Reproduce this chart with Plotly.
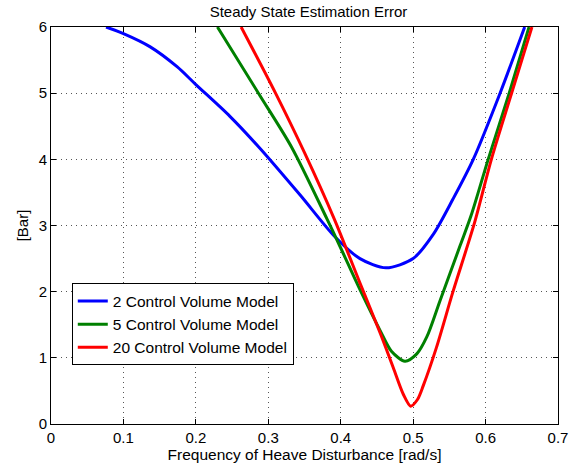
import plotly.graph_objects as go

x_blue = [0.076, 0.1, 0.137, 0.174, 0.2, 0.247, 0.289, 0.344, 0.392, 0.4266, 0.4625, 0.5, 0.528, 0.555, 0.583, 0.62, 0.654]
y_blue = [6.0, 5.9, 5.7, 5.4, 5.13, 4.65, 4.16, 3.46, 2.83, 2.5, 2.36, 2.5, 2.87, 3.4, 4.0, 5.0, 6.0]

x_green = [0.2298, 0.2864, 0.3324, 0.381, 0.4, 0.4266, 0.455, 0.47, 0.4887, 0.505, 0.519, 0.537, 0.565, 0.58, 0.6036, 0.6326, 0.66]
y_green = [6.0, 5.0, 4.18, 3.1, 2.66, 2.03, 1.4, 1.1, 0.95, 1.06, 1.32, 1.86, 2.7, 3.15, 4.0, 5.0, 6.0]

x_red = [0.2625, 0.31, 0.35, 0.391, 0.4266, 0.455, 0.4726, 0.4864, 0.4966, 0.506, 0.514, 0.532, 0.555, 0.585, 0.608, 0.636, 0.664]
y_red = [6.0, 5.0, 4.1, 3.1, 2.13, 1.36, 0.85, 0.45, 0.27, 0.37, 0.58, 1.15, 2.0, 3.05, 4.0, 5.0, 6.0]

names = ["2 Control Volume Model", "5 Control Volume Model", "20 Control Volume Model"]
colors = ["#0000ff", "#008000", "#ff0000"]

x_ticks = [0, 0.1, 0.2, 0.3, 0.4, 0.5, 0.6, 0.7]
x_tick_labels = ["0", "0.1", "0.2", "0.3", "0.4", "0.5", "0.6", "0.7"]
y_ticks = [0, 1, 2, 3, 4, 5, 6]

FONT = "Liberation Sans, Arial, Helvetica, sans-serif"

fig = go.Figure()
for xs, ys, n, c in zip([x_blue, x_green, x_red], [y_blue, y_green, y_red], names, colors):
    fig.add_trace(go.Scatter(x=xs, y=ys, mode="lines", name=n,
                             line=dict(color=c, width=3, shape="spline", smoothing=0.8)))

axis_common = dict(
    showline=True, linecolor="black", linewidth=1, mirror="allticks",
    ticks="inside", ticklen=5, tickcolor="black",
    showgrid=True, gridcolor="#555555", griddash="1px,4px", gridwidth=1,
    zeroline=False, tickfont=dict(size=15, color="black", family=FONT),
)

fig.update_xaxes(range=[0, 0.7], tickvals=x_ticks, ticktext=x_tick_labels,
                 title=dict(text="Frequency of Heave Disturbance [rad/s]", font=dict(size=15.5, color="black", family=FONT), standoff=3),
                 **axis_common)
fig.update_yaxes(range=[0, 6], tickvals=y_ticks,
                 title=dict(text="[Bar]", font=dict(size=15, color="black", family=FONT), standoff=6),
                 **axis_common)

fig.update_layout(
    width=582, height=472,
    margin=dict(l=51, r=24, t=27, b=45),
    paper_bgcolor="white", plot_bgcolor="white",
    title=dict(text="Steady State Estimation Error", x=0.53, xanchor="center", y=0.975, yanchor="middle",
               font=dict(size=15, color="black", family=FONT)),
    font=dict(family=FONT, color="black"),
    legend=dict(x=0.041, y=0.354, xanchor="left", yanchor="top",
                bordercolor="black", borderwidth=1, bgcolor="white",
                font=dict(size=15.5, color="black", family=FONT),
                tracegroupgap=0, itemwidth=30),
    showlegend=True,
)

fig.write_html("out.html")
